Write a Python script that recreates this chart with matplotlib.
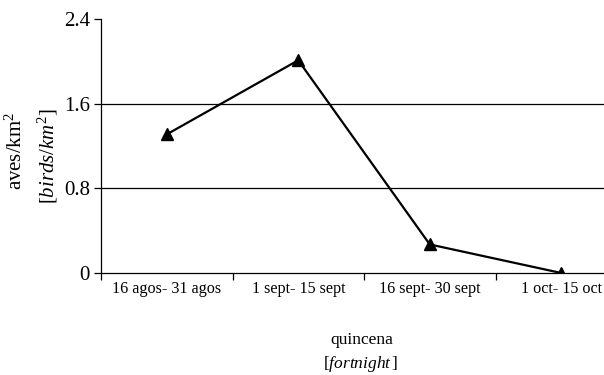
import matplotlib
matplotlib.use("Agg")
import matplotlib.pyplot as plt
import numpy as np

# data
categories = ["16 agos- 31 agos", "1 sept- 15 sept", "16 sept- 30 sept", "1 oct- 15 oct"]
density = [1.31, 2.01, 0.27, 0.0]
y_ticks = [0, 0.8, 1.6, 2.4]
y_tick_labels = ["0", "0.8", "1.6", "2.4"]

plt.rcParams["font.family"] = "Liberation Serif"
plt.rcParams["mathtext.fontset"] = "custom"
plt.rcParams["mathtext.rm"] = "Liberation Serif"
plt.rcParams["mathtext.it"] = "Liberation Serif:italic"

W, H = 604, 375
fig = plt.figure(figsize=(W / 100, H / 100), dpi=100)
# axes runs past the right edge of the picture, as in the reference
ax = fig.add_axes([101 / W, 102 / H, 526 / W, 254 / H])

x = np.arange(len(categories))
ax.plot(x, density, color="black", lw=1.6, marker="^", markersize=8, zorder=3)

ax.set_xlim(-0.5, len(categories) - 0.5)
ax.set_ylim(0, 2.4)

ax.set_yticks(y_ticks)
ax.set_yticklabels(y_tick_labels, fontsize=15)
for v in y_ticks[1:-1]:
    ax.axhline(v, color="black", lw=0.9, zorder=1)

# category labels centred, tick marks on the boundaries
ax.set_xticks(x)
ax.set_xticklabels(categories, fontsize=11.6)
ax.tick_params(axis="x", length=0, pad=6)
ax.set_xticks(np.arange(len(categories) + 1) - 0.5, minor=True)
ax.tick_params(axis="x", which="minor", length=5, width=0.9)
ax.tick_params(axis="y", length=5, width=0.9, pad=3)

for s in ["top", "right"]:
    ax.spines[s].set_visible(False)
for s in ["left", "bottom"]:
    ax.spines[s].set_linewidth(0.9)

# axis titles
fig.text(16 / W, 1 - 151 / H, r"aves/km$^2$", rotation=90, ha="center", va="center", fontsize=15)
fig.text(48 / W, 1 - 156 / H, r"[$birds/km^2$]", rotation=90, ha="center", va="center", fontsize=15)
fig.text(362 / W, 1 - 340 / H, "quincena", ha="center", va="center", fontsize=12.5)
fig.text(361 / W, 1 - 364 / H, r"[$fortnight\,$]", ha="center", va="center", fontsize=12.5)

fig.savefig("out.png", dpi=100)
